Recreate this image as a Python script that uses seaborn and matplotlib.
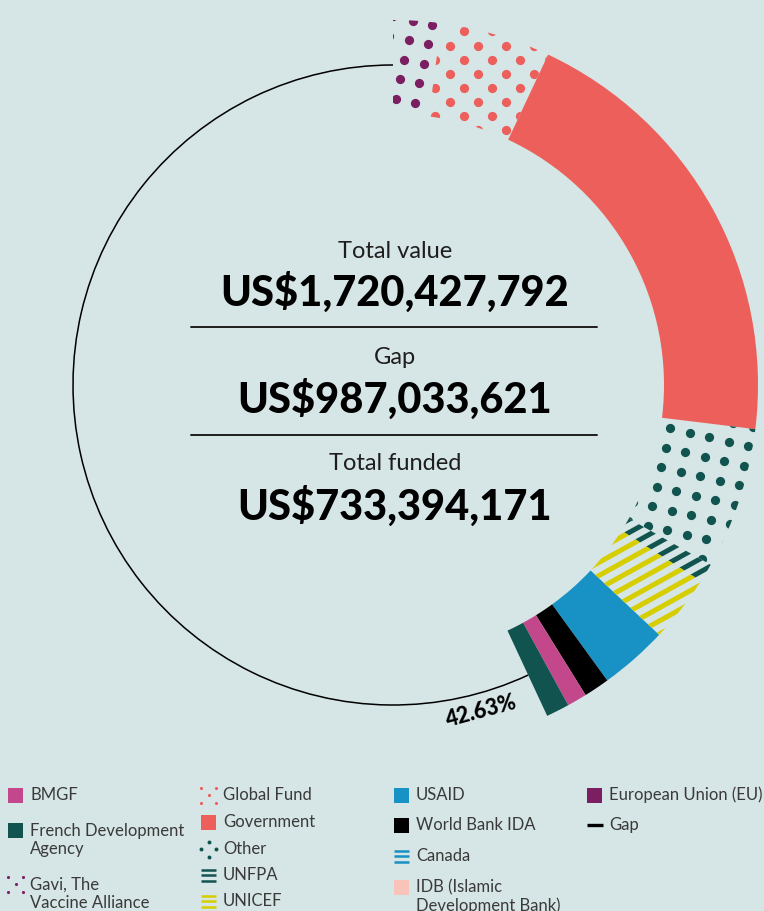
import numpy as np
import matplotlib
matplotlib.use("Agg")
import matplotlib.pyplot as plt
import seaborn as sns
from matplotlib.collections import LineCollection
from matplotlib.patches import Arc, Rectangle

# funding by source, US$ millions
sources = ["Gavi, The Vaccine Alliance", "Global Fund", "Government", "Other",
           "UNFPA", "UNICEF", "USAID", "World Bank IDA", "BMGF",
           "French Development Agency"]
funded = [36.3, 83.9, 343.1, 107.8, 14.3, 51.1, 51.9, 19.6, 15.1, 17.7]
total_value = 1720.427792
gap_value = total_value - sum(funded)

summary_labels = ["Total value", "Gap", "Total funded"]
summary_values = ["US$1,720,427,792", "US$987,033,621", "US$733,394,171"]
funded_pct_label = "42.63%"

legend_cols = [
    ["BMGF", "French Development\nAgency", "Gavi, The\nVaccine Alliance"],
    ["Global Fund", "Government", "Other", "UNFPA", "UNICEF"],
    ["USAID", "World Bank IDA", "Canada", "IDB (Islamic\nDevelopment Bank)"],
    ["European Union (EU)", "Gap"],
]

BG = "#d6e5e5"
RED = "#ec5f5b"
PURPLE = "#7b1e62"
TEAL = "#11544f"
BLUE = "#1891c5"
YELLOW = "#d6ce00"
PINK = "#c2488b"
IDB_PINK = "#f8c4b9"
INK = "#1e1e1e"
GREY = "#3a3a3a"

ring_style = {
    "Gavi, The Vaccine Alliance": ("dots", PURPLE, -12.6),
    "Global Fund": ("dots", RED, 45),
    "Government": ("solid", RED),
    "Other": ("dots", TEAL, -13),
    "UNFPA": ("stripes", TEAL),
    "UNICEF": ("stripes", YELLOW),
    "USAID": ("solid", BLUE),
    "World Bank IDA": ("solid", "black"),
    "BMGF": ("solid", PINK),
    "French Development Agency": ("solid", TEAL),
}
legend_icon = {
    "BMGF": ("solid", PINK),
    "French Development Agency": ("solid", TEAL),
    "Gavi, The Vaccine Alliance": ("dots", PURPLE),
    "Global Fund": ("dots", RED),
    "Government": ("solid", RED),
    "Other": ("diamond", TEAL),
    "UNFPA": ("stripes", TEAL),
    "UNICEF": ("stripes", YELLOW),
    "USAID": ("solid", BLUE),
    "World Bank IDA": ("solid", "black"),
    "Canada": ("stripes", BLUE),
    "IDB (Islamic Development Bank)": ("solid", IDB_PINK),
    "European Union (EU)": ("solid", PURPLE),
    "Gap": ("line", "black"),
}

W, H = 764, 911
CX, CY = 393, 385          # ring centre, pixels from top-left
R_OUT, R_IN, R_GAP = 365, 271, 320

sns.set_theme(style="white", rc={"figure.facecolor": BG, "axes.facecolor": BG})
plt.rcParams["font.family"] = ["Lato", "DejaVu Sans"]

fig = plt.figure(figsize=(W / 100, H / 100), dpi=100)
ax = fig.add_axes([0, 0, 1, 1])


def P(x, y):
    # pixel position (from top-left) -> data coords centred on the ring
    return x - CX, CY - y


def add_dots(wedge, color, rot, step=20, size=44):
    g = np.arange(-440, 441, step)
    gx, gy = np.meshgrid(g, g)
    t = np.deg2rad(rot)
    x = gx * np.cos(t) - gy * np.sin(t)
    y = gx * np.sin(t) + gy * np.cos(t)
    sc = ax.scatter(x.ravel(), y.ravel(), s=size, color=color, linewidths=0, zorder=2)
    sc.set_clip_path(wedge)


def add_stripes(wedge, color, angle=29, gap=11.5, lw=3.6):
    t = np.deg2rad(angle)
    d = np.array([np.cos(t), np.sin(t)])
    n = np.array([-np.sin(t), np.cos(t)])
    segs = [[o * n - 600 * d, o * n + 600 * d] for o in np.arange(-600, 600, gap)]
    lc = LineCollection(segs, colors=color, linewidths=lw, zorder=2)
    ax.add_collection(lc)
    lc.set_clip_path(wedge)


wedges, _ = ax.pie(funded + [gap_value], radius=R_OUT, startangle=90, counterclock=False,
                   wedgeprops=dict(width=R_OUT - R_IN, linewidth=0))
wedges[-1].set_visible(False)
for w, name in zip(wedges, sources):
    st = ring_style[name]
    if st[0] == "solid":
        w.set_facecolor(st[1])
    else:
        w.set_facecolor("none")
        if st[0] == "dots":
            add_dots(w, st[1], st[2])
        else:
            add_stripes(w, st[1])

# the unfunded part as a thin line
funded_deg = 360 * sum(funded) / total_value
ax.add_patch(Arc((0, 0), 2 * R_GAP, 2 * R_GAP, theta1=90, theta2=450 - funded_deg,
                 color="black", lw=1.1, zorder=0.5))
a = np.deg2rad(90 - funded_deg - 9.9)
ax.text(338 * np.cos(a), 338 * np.sin(a), funded_pct_label, ha="center", va="center",
        rotation=np.rad2deg(a) + 90, rotation_mode="anchor", fontsize=15.5,
        fontweight="black", color="black")

# centre summary
label_y = [251, 358, 464]
value_y = [292, 399, 506]
for lab, val, ly, vy in zip(summary_labels, summary_values, label_y, value_y):
    ax.text(*P(395, ly), lab, ha="center", va="center", fontsize=17,
            fontweight="normal", color=INK)
    ax.text(*P(395, vy), val, ha="center", va="center", fontsize=30,
            fontweight="black", color="black")
for y in [327, 435]:
    (x0, y0), (x1, _) = P(191, y), P(597, y)
    ax.plot([x0, x1], [y0, y0], color=INK, lw=1.4)

# legend
col_x = [8, 201, 394, 587]
row_y = [[795, 830, 884], [795, 822, 849, 875, 901], [795, 825, 856, 887], [795, 825]]
line_h = 19.5
for cx, names, ys in zip(col_x, legend_cols, row_y):
    for name, y in zip(names, ys):
        kind, col = legend_icon[name.replace("\n", " ")]
        x0, y0 = P(cx, y)
        if kind == "solid":
            ax.add_patch(Rectangle((x0, y0 - 7.5), 15, 15, color=col, lw=0))
        elif kind == "dots":
            pts = [(0, 0), (15, 0), (7.5, 7.5), (0, 15), (15, 15)]
            ax.scatter([x0 + p[0] for p in pts], [y0 - 7.5 + p[1] for p in pts],
                       s=5, color=col, linewidths=0)
        elif kind == "diamond":
            pts = [(7.5, 0), (0, 7.5), (15, 7.5), (7.5, 15)]
            ax.scatter([x0 + p[0] for p in pts], [y0 - 7.5 + p[1] for p in pts],
                       s=8, color=col, linewidths=0)
        elif kind == "stripes":
            for dy in (-5.5, 0, 5.5):
                ax.plot([x0, x0 + 15], [y0 + dy, y0 + dy], color=col, lw=1.8,
                        solid_capstyle="butt")
        else:
            ax.plot([x0, x0 + 16], [y0, y0], color=col, lw=2.4, solid_capstyle="butt")
        n = name.count("\n")
        ax.text(x0 + 22, y0 - n * line_h / 2, name, ha="left", va="center",
                fontsize=12, fontweight="normal", color=GREY, linespacing=1.15)

ax.set_xlim(-CX, W - CX)
ax.set_ylim(CY - H, CY)
ax.set_aspect("equal")
ax.axis("off")

fig.savefig("out.png", dpi=100, facecolor=BG)
